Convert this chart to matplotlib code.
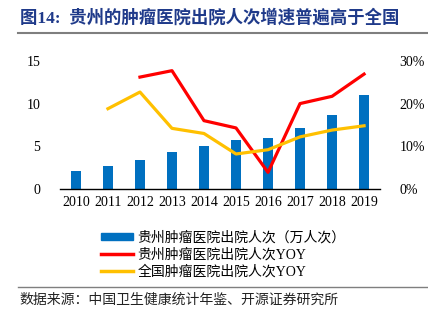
import numpy as np
import matplotlib.pyplot as plt
from matplotlib.lines import Line2D
from matplotlib.patches import Patch

plt.rcParams['font.family'] = ['Liberation Serif', 'Noto Sans CJK SC']

years = ["2010", "2011", "2012", "2013", "2014", "2015", "2016", "2017", "2018", "2019"]
# 贵州肿瘤医院出院人次（万人次）
gz_visits = [2.06, 2.70, 3.40, 4.34, 5.04, 5.78, 5.98, 7.15, 8.71, 11.05]
# YOY (%), None where not available
gz_yoy = [None, None, 26.2, 27.7, 16.0, 14.3, 3.9, 20.0, 21.7, 26.9]
cn_yoy = [None, 18.8, 22.7, 14.2, 13.0, 8.2, 9.2, 12.2, 13.8, 14.8]

BLUE = "#0070C0"
RED = "#FF0000"
GOLD = "#FFC000"

fig = plt.figure(figsize=(4.28, 3.22), dpi=100)
ax = fig.add_axes([0.140, 0.413, 0.748, 0.398])
x = np.arange(len(years))
ax.bar(x, gz_visits, 0.31, color=BLUE, zorder=2)
ax.set_xlim(-0.5, len(years) - 0.5)
ax.set_ylim(0, 15)
ax.set_yticks([0, 5, 10, 15])
ax.set_xticks(x)
ax.set_xticklabels(years)
for s in ["top", "right", "left"]:
    ax.spines[s].set_visible(False)
ax.spines["bottom"].set_linewidth(1.0)
ax.tick_params(length=0, labelsize=10, pad=5)
ax.tick_params(axis="y", pad=14)

ax2 = ax.twinx()
ax2.set_ylim(0, 30)
ax2.set_yticks([0, 10, 20, 30])
ax2.set_yticklabels(["0%", "10%", "20%", "30%"])
for s in ["top", "right", "left", "bottom"]:
    ax2.spines[s].set_visible(False)
ax2.tick_params(length=0, labelsize=10, pad=14)

gz = np.array([np.nan if v is None else v for v in gz_yoy])
cn = np.array([np.nan if v is None else v for v in cn_yoy])
ax2.plot(x, gz, color=RED, lw=2.3, zorder=3)
ax2.plot(x, cn, color=GOLD, lw=2.3, zorder=3)

handles = [
    Patch(color=BLUE),
    Line2D([], [], color=RED, lw=2.5),
    Line2D([], [], color=GOLD, lw=2.5),
]
labels = ["贵州肿瘤医院出院人次（万人次）", "贵州肿瘤医院出院人次YOY", "全国肿瘤医院出院人次YOY"]
leg = fig.legend(handles, labels, loc="upper left", bbox_to_anchor=(0.22, 0.305),
                 frameon=False, fontsize=10, handlelength=2.3, handleheight=0.45,
                 handletextpad=0.3, labelspacing=0.25, borderpad=0)

fig.text(0.047, 0.945, "图14:  贵州的肿瘤医院出院人次增速普遍高于全国", fontsize=12.5,
         fontweight="bold", color="#1F3A8A", va="center",
         family=["Liberation Serif", "Noto Sans CJK SC"])
fig.add_artist(Line2D([0.042, 1.0], [0.897, 0.897], color="#7F7F7F", lw=1.5))
fig.add_artist(Line2D([0.042, 1.0], [0.108, 0.108], color="#7F7F7F", lw=1.0))
fig.text(0.045, 0.068, "数据来源：中国卫生健康统计年鉴、开源证券研究所", fontsize=10,
         color="#222222", va="center")

fig.savefig("out.png", dpi=100)
